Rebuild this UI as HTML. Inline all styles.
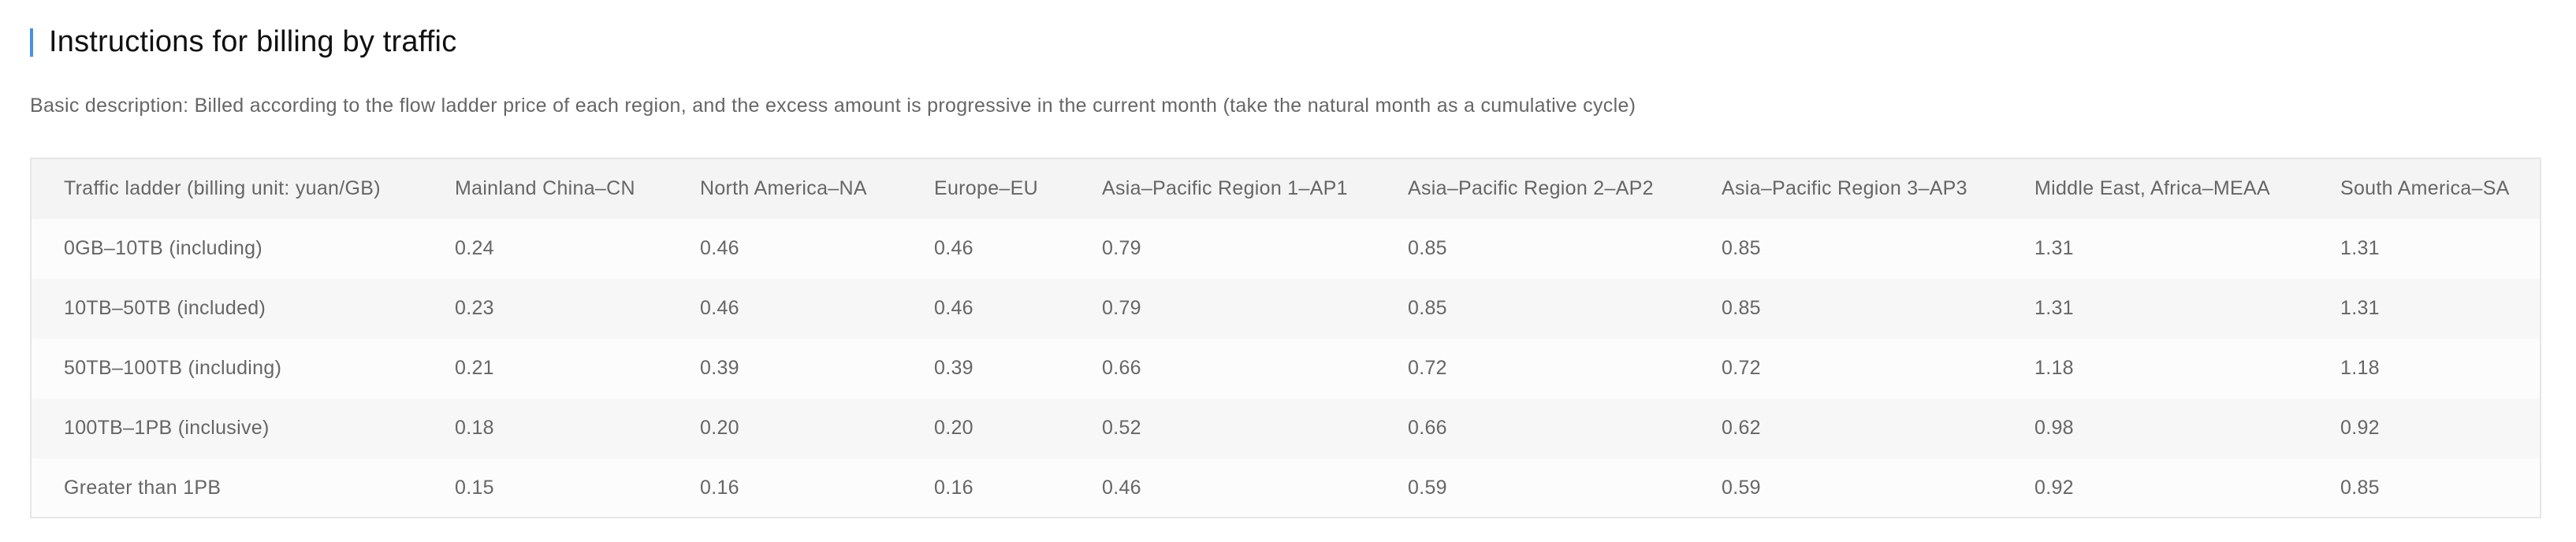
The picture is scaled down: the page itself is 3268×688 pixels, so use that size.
<!DOCTYPE html>
<html><head><meta charset="utf-8">
<style>
html,body{margin:0;padding:0;background:#fff;width:3268px;height:688px;overflow:hidden;font-family:"Liberation Sans","Noto Sans CJK SC",sans-serif;}
#bar{position:absolute;left:38px;top:36px;width:4px;height:36px;background:#4a90e2;}
#title{position:absolute;left:62px;top:31px;font-size:38px;color:#111;line-height:44px;white-space:nowrap;letter-spacing:0.2px;}
#desc{position:absolute;left:38px;top:119px;font-size:25px;color:#666;line-height:30px;white-space:nowrap;letter-spacing:0.3px;}
#tbl{position:absolute;left:38px;top:200px;width:3186px;height:458px;border:2px solid #e6e6e6;box-sizing:border-box;overflow:hidden;}
.row{position:absolute;left:0;width:100%;}
.cell{position:absolute;font-size:25px;color:#666;white-space:nowrap;letter-spacing:0.3px;}
</style></head><body>
<div id="bar"></div>
<div id="title">Instructions for billing by traffic</div>
<div id="desc">Basic description: Billed according to the flow ladder price of each region, and the excess amount is progressive in the current month (take the natural month as a cumulative cycle)</div>
<div id="tbl"></div>
<script>
const headers=["Traffic ladder (billing unit: yuan/GB)","Mainland China\u2013CN","North America\u2013NA","Europe\u2013EU","Asia\u2013Pacific Region 1\u2013AP1","Asia\u2013Pacific Region 2\u2013AP2","Asia\u2013Pacific Region 3\u2013AP3","Middle East, Africa\u2013MEAA","South America\u2013SA"];
const tiers=["0GB\u201310TB (including)","10TB\u201350TB (included)","50TB\u2013100TB (including)","100TB\u20131PB (inclusive)","Greater than 1PB"];
const cn=["0.24","0.23","0.21","0.18","0.15"];
const na=["0.46","0.46","0.39","0.20","0.16"];
const eu=["0.46","0.46","0.39","0.20","0.16"];
const ap1=["0.79","0.79","0.66","0.52","0.46"];
const ap2=["0.85","0.85","0.72","0.66","0.59"];
const ap3=["0.85","0.85","0.72","0.62","0.59"];
const meaa=["1.31","1.31","1.18","0.98","0.92"];
const sa=["1.31","1.31","1.18","0.92","0.85"];
const cols=[tiers,cn,na,eu,ap1,ap2,ap3,meaa,sa];
const colX=[41,537,848,1145,1358,1746,2144,2541,2929];
const tbl=document.getElementById('tbl');
const rowH=[76,76,76,76,76,74];
const bgs=["#f4f4f4","#fcfcfc","#f7f7f7","#fcfcfc","#f7f7f7","#fcfcfc"];
let y=0;
for(let r=0;r<=tiers.length;r++){
  const row=document.createElement('div');
  row.className='row';
  
  
  row.style.top=y+'px';row.style.height=rowH[r]+'px';row.style.background=bgs[r];
  for(let c=0;c<cols.length;c++){
    const cell=document.createElement('div');
    cell.className='cell';
    
    
    cell.textContent = r===0?headers[c]:cols[c][r-1];
    cell.style.left=colX[c]+'px';
    cell.style.top=(38-15)+'px';
    row.appendChild(cell);
  }
  tbl.appendChild(row);
  y+=rowH[r];
}
</script>
</body></html>
